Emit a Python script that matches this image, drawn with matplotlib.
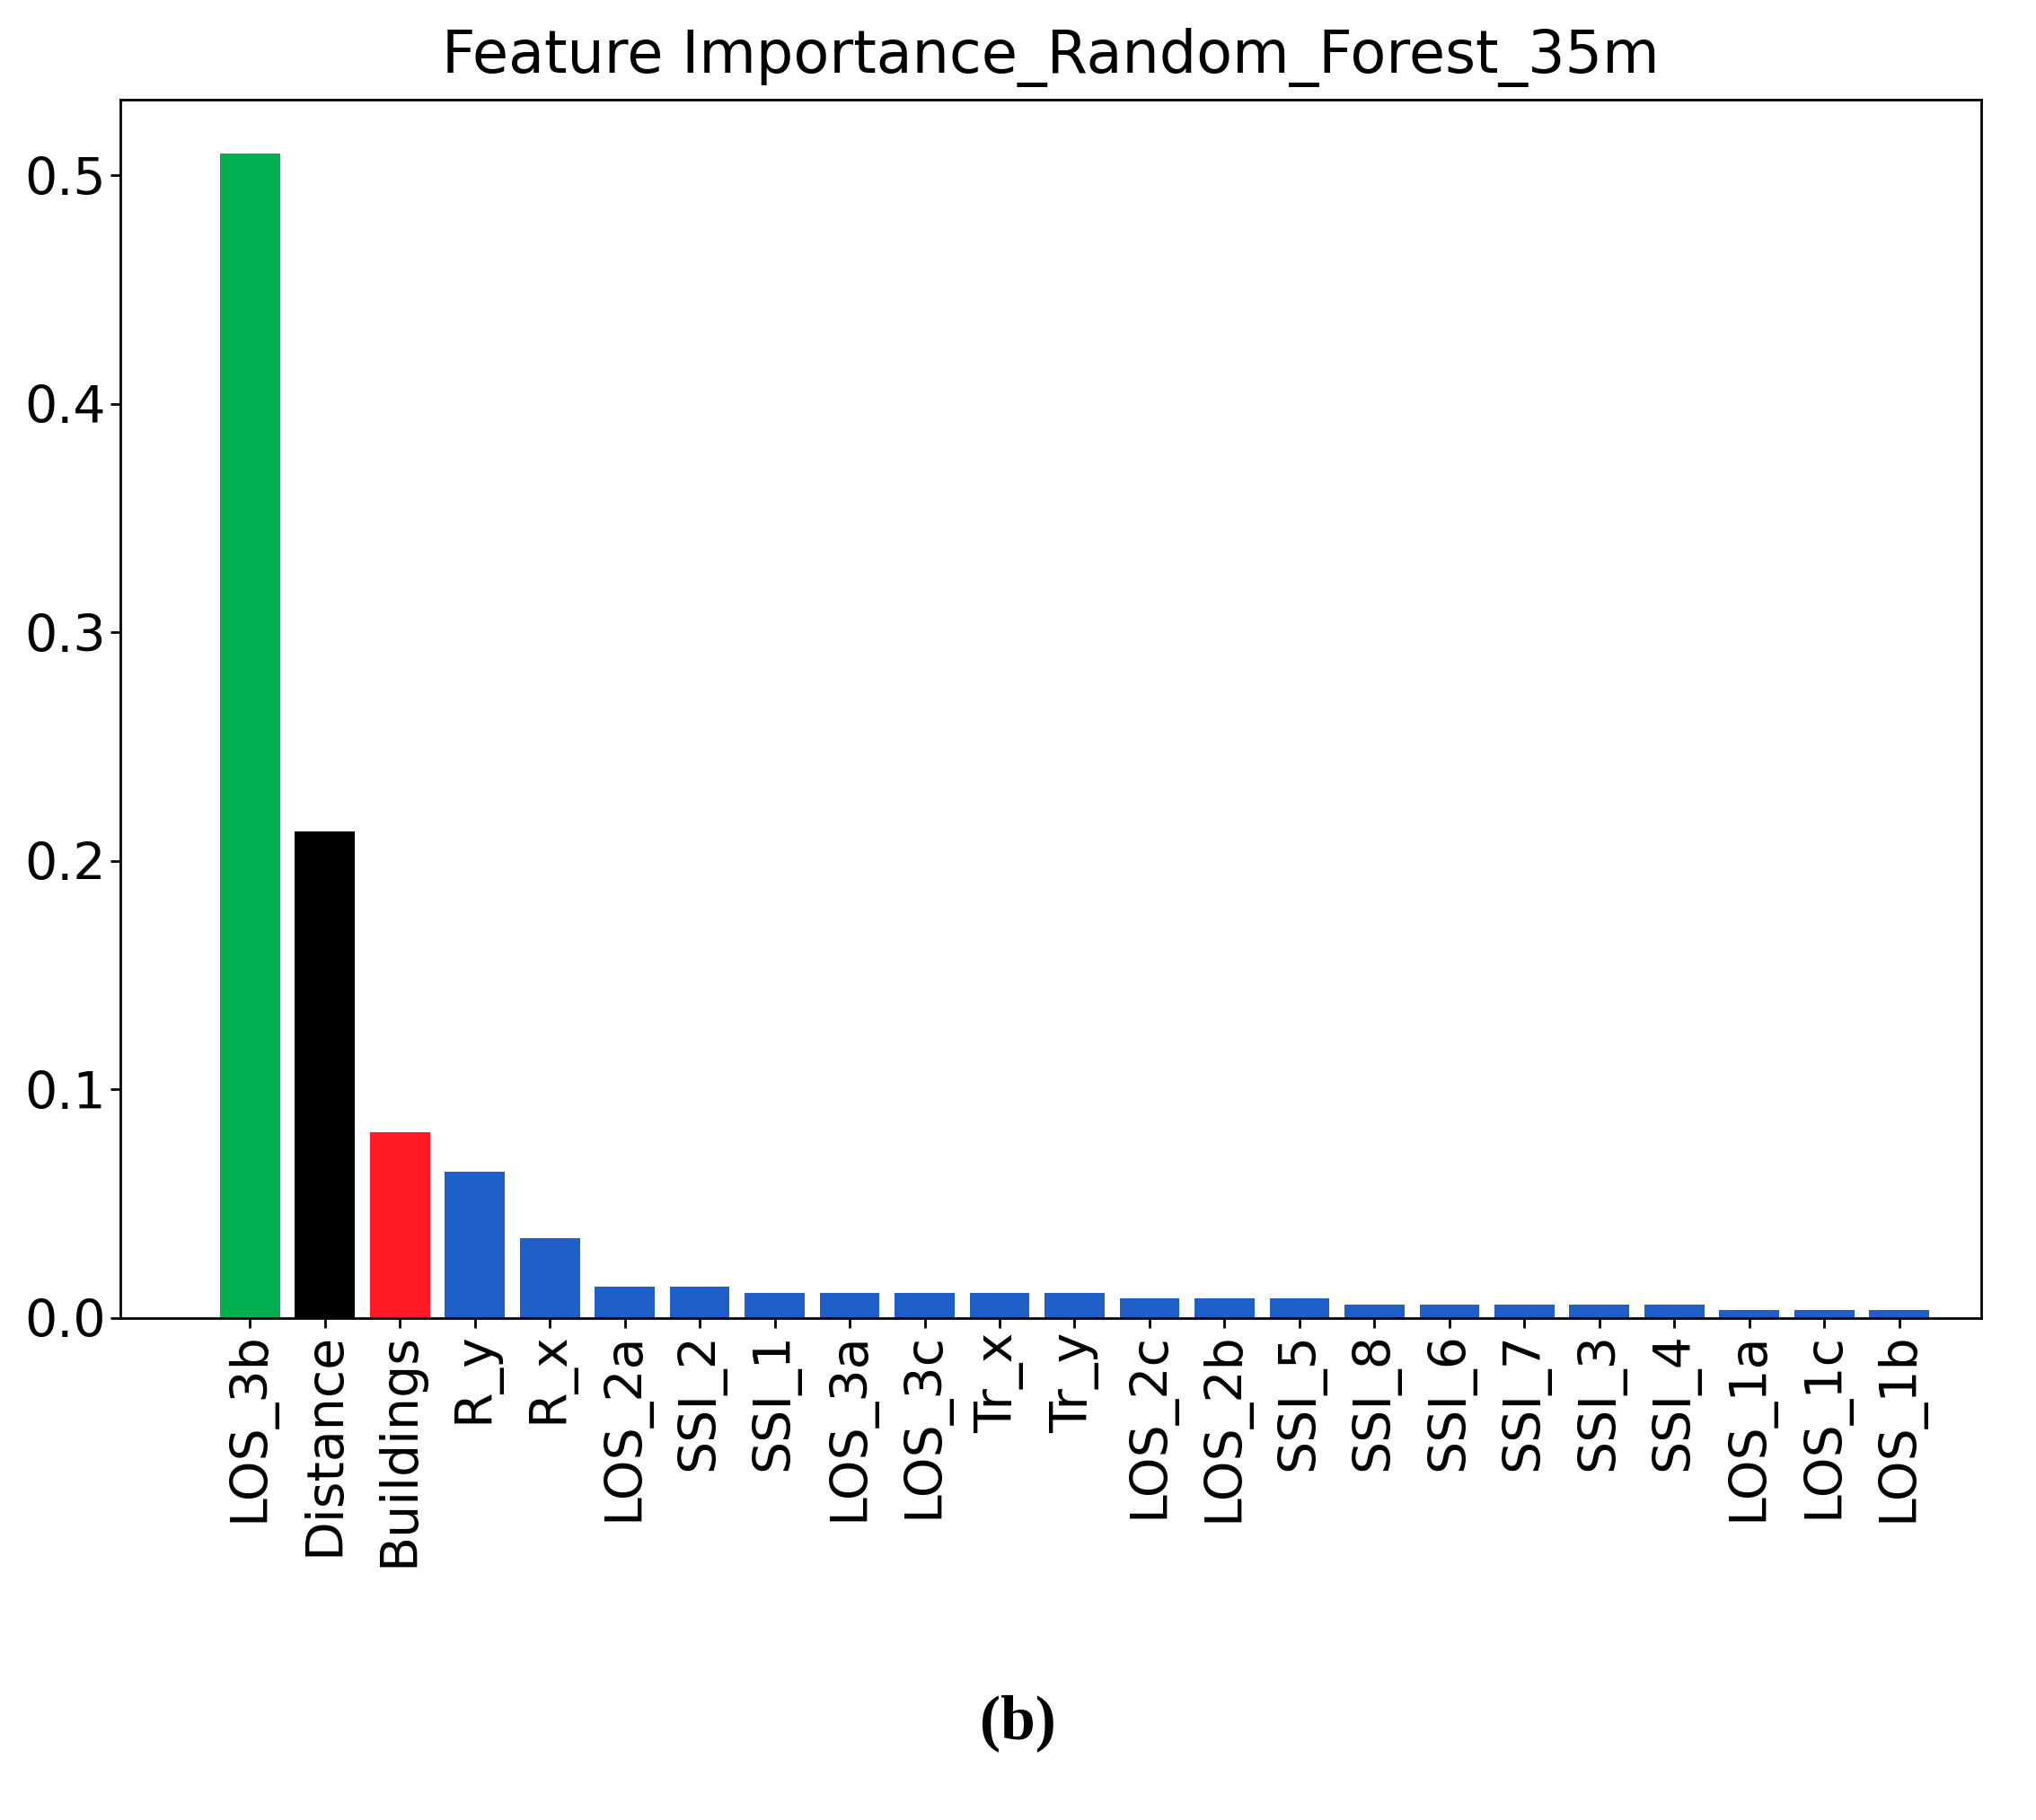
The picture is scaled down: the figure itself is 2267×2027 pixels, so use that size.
import matplotlib.pyplot as plt

features = ['LOS_3b', 'Distance', 'Buildings', 'R_y', 'R_x', 'LOS_2a', 'SSI_2', 'SSI_1',
            'LOS_3a', 'LOS_3c', 'Tr_x', 'Tr_y', 'LOS_2c', 'LOS_2b', 'SSI_5', 'SSI_8',
            'SSI_6', 'SSI_7', 'SSI_3', 'SSI_4', 'LOS_1a', 'LOS_1c', 'LOS_1b']
importance = [0.5096, 0.213, 0.081, 0.064, 0.035, 0.0136, 0.0136, 0.011,
              0.011, 0.011, 0.011, 0.011, 0.0085, 0.0085, 0.0085, 0.0057,
              0.0057, 0.0057, 0.0057, 0.0057, 0.0034, 0.0034, 0.0034]
bar_colors = ['#00b050', '#000000', '#ff1a25'] + ['#1f5fc8'] * 20

fig = plt.figure(figsize=(22.67, 20.27), dpi=100)
ax = fig.add_axes([0.059, 0.276, 0.914, 0.669])
x = range(len(features))
ax.bar(x, importance, width=0.8, color=bar_colors)
ax.set_xlim(-1.73, len(features) - 1 + 1.09)
ax.set_ylim(0, 0.533)
ax.set_yticks([0.0, 0.1, 0.2, 0.3, 0.4, 0.5])
ax.set_xticks(list(x))
ax.set_xticklabels(features, rotation=90)
ax.tick_params(labelsize=41, length=8, width=2)
for s in ax.spines.values():
    s.set_linewidth(2)
ax.set_title('Feature Importance_Random_Forest_35m', fontsize=47, pad=22)

fig.text(0.5, 0.053, '(b)', ha='center', va='center', fontsize=50,
         fontweight='bold', family='Liberation Serif')

fig.savefig('out.png')
